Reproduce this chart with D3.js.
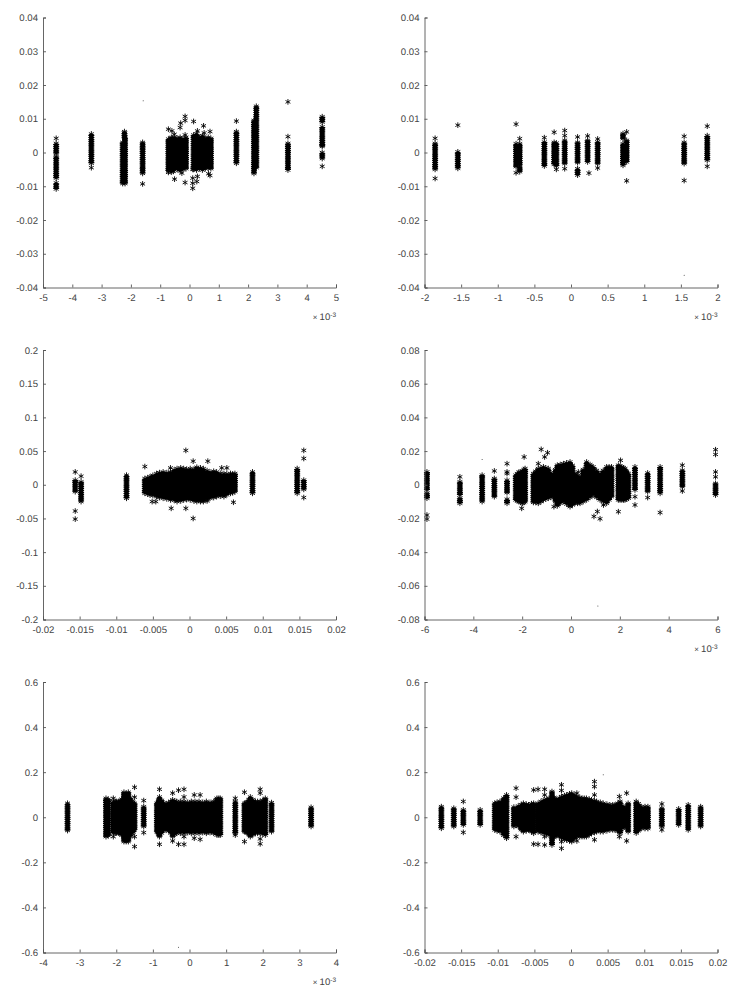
<!DOCTYPE html>
<html>
<head>
<meta charset="utf-8">
<script src="https://cdn.jsdelivr.net/npm/d3@7"></script>
<style>
	html, body { margin: 0; padding: 0; background: #fff; }
	svg { display: block; }
	text { font-family: "Liberation Sans", Arial, sans-serif; font-size: 9.6px; fill: #444; text-rendering: geometricPrecision; }
</style>
</head>
<body>
<svg class="chart" width="745" height="990"></svg>
<script>
// tick labels (x axes with a multiplier are in units of 1e-3)
var xTicksA = [-5,-4,-3,-2,-1,0,1,2,3,4,5],
	yTicksA = [-0.04,-0.03,-0.02,-0.01,0,0.01,0.02,0.03,0.04],
	xTicksB = [-2,-1.5,-1,-0.5,0,0.5,1,1.5,2],
	yTicksB = yTicksA,
	xTicksC = [-0.02,-0.015,-0.01,-0.005,0,0.005,0.01,0.015,0.02],
	yTicksC = [-0.2,-0.15,-0.1,-0.05,0,0.05,0.1,0.15,0.2],
	xTicksD = [-6,-4,-2,0,2,4,6],
	yTicksD = [-0.08,-0.06,-0.04,-0.02,0,0.02,0.04,0.06,0.08],
	xTicksE = [-4,-3,-2,-1,0,1,2,3,4],
	yTicksE = [-0.6,-0.4,-0.2,0,0.2,0.4,0.6],
	xTicksF = xTicksC,
	yTicksF = yTicksE;

// solid runs of overlapping stars: [x, lowest y, highest y]
var runsA = [[-4.55,-0.0076,-0.0012],[-4.55,-0.0108,-0.009],[-4.55,-0.0003,0.0027],
	[-3.35,-0.0032,0.0055],[-2.28,-0.0092,0.003],[-2.2,-0.0092,0.0045],[-2.22,0.0042,0.0062],
	[-1.6,-0.0048,0.0015],[-1.6,-0.0062,-0.0048],[-1.6,0.0015,0.003],
	[-0.72,-0.0055,0.004],[-0.62,-0.0058,0.0045],[-0.52,-0.0052,0.0045],[-0.42,-0.005,0.0042],[-0.32,-0.0055,0.0045],[-0.22,-0.005,0.004],[-0.12,-0.0048,0.0045],
	[0.14,-0.005,0.0052],[0.24,-0.0052,0.0055],[0.34,-0.0048,0.0045],[0.44,-0.0052,0.005],[0.54,-0.0048,0.0042],[0.64,-0.0046,0.0045],[0.73,-0.0048,0.0042],
	[1.6,-0.0032,0.0062],[2.2,-0.0062,0.0095],[2.28,-0.0045,0.0137],[3.36,-0.0052,0.0027],
	[4.53,0.009,0.0106],[4.53,0.0022,0.0076],[4.53,-0.0018,0],[4.53,0.0018,0.0025]];
var starsA = [[-4.55,0.0042],[-3.35,-0.0045],[-1.6,-0.0093],
	[-0.72,0.0069],[-0.6,0.0064],[-0.52,0.0054],[-0.32,0.0074],[-0.3,0.0087],[-0.15,0.0107],[-0.15,0.0095],[-0.15,0.0052],
	[-0.72,-0.0059],[-0.55,-0.0056],[-0.51,-0.0079],[-0.26,-0.0061],[-0.15,-0.0089],
	[0.14,0.0092],[0.27,0.0064],[0.48,0.0079],[0.7,0.0062],[0.5,0.0058],
	[0.11,-0.005],[0.11,-0.0076],[0.11,-0.0091],[0.11,-0.0106],[0.25,-0.0086],[0.27,-0.0071],[0.48,-0.0046],[0.65,-0.0063],[0.7,-0.0068],
	[1.6,0.0093],[3.36,0.0047],[3.36,0.015],[4.53,-0.0041]];
var specksA = [[-1.58,0.0153]];

var runsB = [[-1.855,-0.005,0.0027],[-1.545,-0.0047,0.0002],
	[-0.75,-0.0042,0.0026],[-0.7,-0.0038,0.0026],[-0.7,-0.0057,-0.0042],
	[-0.364,-0.004,0.0031],[-0.23,-0.0035,0.003],[-0.2,-0.004,0.0028],[-0.086,-0.0033,0.0036],
	[0.09,-0.003,0.003],[0.09,-0.0067,-0.0048],[0.227,-0.0028,0.0036],[0.364,-0.0033,0.0031],
	[0.71,-0.0038,0.0026],[0.71,0.0041,0.0056],[0.76,-0.0028,0.0036],[1.545,-0.0033,0.003],[1.86,-0.0023,0.005]];
var starsB = [[-1.855,0.0042],[-1.855,-0.0077],[-1.545,0.0081],[-0.75,0.0084],[-0.75,-0.006],[-0.7,0.0041],
	[-0.364,0.0044],[-0.23,0.006],[-0.2,-0.005],[-0.086,0.0065],[-0.086,0.005],[-0.086,-0.0048],
	[0.09,0.0046],[0.227,0.0049],[0.245,-0.0061],[0.364,0.004],[0.364,-0.0046],
	[0.76,0.0061],[0.76,-0.0084],[1.545,0.0048],[1.545,-0.0083],[1.86,0.0078],[1.86,-0.0041]];
var specksB = [[1.545,-0.0364]];

var runsC = [[-0.0156,-0.0103,0.0069],[-0.0148,-0.025,0.0044],[-0.0086,-0.0201,0.0142],
	[-0.0061,-0.0127,0.0093],[-0.0057,-0.014,0.0105],[-0.0054,-0.0152,0.0118],[-0.005,-0.016,0.014],[-0.0045,-0.0176,0.0167],[-0.0041,-0.019,0.018],[-0.0036,-0.0201,0.019],
	[-0.0031,-0.021,0.018],[-0.0026,-0.0225,0.019],[-0.0021,-0.023,0.022],[-0.0017,-0.025,0.024],[-0.0012,-0.024,0.025],[-0.0008,-0.0225,0.024],[-0.0004,-0.022,0.023],[0.0001,-0.0225,0.024],
	[0.0006,-0.024,0.023],[0.001,-0.025,0.026],[0.0015,-0.025,0.025],[0.0019,-0.025,0.024],[0.0024,-0.022,0.021],[0.0028,-0.0201,0.019],[0.0033,-0.019,0.02],[0.0037,-0.0176,0.019],
	[0.0042,-0.017,0.017],[0.0047,-0.0176,0.0167],[0.0051,-0.015,0.016],[0.0056,-0.0127,0.0167],[0.0059,-0.012,0.016],[0.0062,-0.0103,0.0167],
	[0.0086,-0.0127,0.019],[0.0147,-0.0127,0.024],[0.0156,-0.0069,0.0069]];
var starsC = [[-0.0156,0.019],[-0.0156,-0.039],[-0.0156,-0.051],[-0.0148,0.0127],
	[-0.0061,0.027],[-0.0026,0.025],[-0.0025,-0.035],[-0.0005,0.051],[-0.0005,-0.035],
	[0.0005,0.035],[0.0005,-0.05],[0.0025,0.035],[0.0024,-0.024],[0.0044,0.025],[0.0051,0.025],[0.006,-0.026],
	[-0.0046,-0.025],[-0.0051,-0.025],[0.0156,0.051],[0.0156,0.039],[0.0156,-0.019]];
var specksC = [];

var runsD = [[-5.9,-0.0031,0.0076],[-5.9,-0.008,-0.0051],[-4.55,-0.0061,0.0018],[-4.55,-0.011,-0.008],
	[-3.64,-0.01,0.0057],[-3.14,-0.0071,0.0037],[-2.62,-0.0047,0.0027],[-2.62,-0.011,-0.0086],
	[-2.26,-0.009,0.0057],[-2.2,-0.0095,0.0065],[-2.13,-0.01,0.0076],[-2.06,-0.0105,0.0076],[-1.99,-0.011,0.0076],[-1.93,-0.0105,0.009],[-1.88,-0.01,0.0096],
	[-1.54,-0.0105,0.0067],[-1.44,-0.0105,0.008],[-1.34,-0.011,0.0096],[-1.23,-0.01,0.01],[-1.13,-0.009,0.0106],[-1.03,-0.0085,0.01],[-0.93,-0.008,0.0096],[-0.82,-0.0075,0.007],[-0.72,-0.0071,0.0057],
	[-0.64,-0.01,0.009],[-0.56,-0.0125,0.0116],[-0.44,-0.011,0.012],[-0.31,-0.01,0.0125],[-0.18,-0.0115,0.013],[-0.04,-0.013,0.0135],[0.06,-0.012,0.0115],[0.16,-0.011,0.0067],[0.27,-0.011,0.0055],[0.37,-0.011,0.0047],
	[0.5,-0.01,0.009],[0.64,-0.009,0.0135],[0.78,-0.0075,0.012],[0.91,-0.0061,0.0106],[1.05,-0.0075,0.0085],[1.19,-0.009,0.0067],[1.32,-0.01,0.0085],[1.46,-0.011,0.0106],[1.56,-0.009,0.0106],[1.66,-0.0071,0.0106],
	[1.94,-0.009,0.0116],[2.01,-0.009,0.011],[2.08,-0.009,0.0106],[2.15,-0.009,0.01],[2.21,-0.009,0.0096],[2.28,-0.0085,0.008],[2.35,-0.008,0.0067],
	[2.62,-0.0031,0.0106],[3.14,-0.0041,0.007],[3.65,-0.0051,0.0106],[4.56,-0.0012,0.0086],[5.92,-0.0061,0.0008]];
var starsD = [[-5.9,-0.018],[-5.9,-0.0204],[-4.55,0.0047],[-3.14,0.0082],[-2.62,0.0125],[-2.62,0.0076],[-2.62,0.0067],
	[-1.92,0.0165],[-2.02,-0.014],[-1.34,0.0125],[-1.22,0.021],[-1.08,0.0165],[-0.96,0.019],[-0.7,-0.013],
	[0.3,0.0076],[0.94,-0.0188],[1.08,-0.0159],[1.19,-0.0202],[1.33,-0.012],[2.03,0.0145],[1.94,-0.016],
	[2.62,-0.0071],[2.62,-0.012],[3.14,-0.0076],[3.65,-0.0165],[4.56,0.0116],[4.56,-0.0037],
	[5.92,0.0208],[5.92,0.018],[5.92,0.0076],[5.92,0.0047]];
var specksD = [[-3.64,0.015],[1.1,-0.072]];

var runsE = [[-3.33,-0.059,0.062],[-2.28,-0.086,0.084],[-2.22,-0.082,0.08],[-2.08,-0.07,0.07],[-2.03,-0.07,0.07],[-1.99,-0.07,0.07],[-1.94,-0.07,0.07],[-1.9,-0.07,0.07],[-1.85,-0.08,0.08],
	[-1.79,-0.108,0.111],[-1.73,-0.108,0.105],[-1.67,-0.108,0.111],[-1.62,-0.085,0.085],[-1.58,-0.071,0.07],[-1.54,-0.066,0.066],[-1.5,-0.056,0.062],[-1.25,-0.041,0.047],
	[-0.89,-0.064,0.062],[-0.85,-0.075,0.075],[-0.82,-0.086,0.09],[-0.76,-0.07,0.075],[-0.71,-0.056,0.062],[-0.64,-0.058,0.06],[-0.57,-0.06,0.065],[-0.51,-0.07,0.07],[-0.46,-0.086,0.077],[-0.4,-0.075,0.072],
	[-0.35,-0.071,0.07],[-0.25,-0.071,0.07],[-0.15,-0.071,0.07],[-0.05,-0.068,0.066],[0.05,-0.071,0.07],[0.15,-0.071,0.07],
	[0.26,-0.071,0.07],[0.36,-0.068,0.066],[0.46,-0.071,0.07],[0.56,-0.068,0.066],[0.66,-0.071,0.07],
	[0.75,-0.079,0.084],[0.8,-0.079,0.084],[0.84,-0.079,0.084],[1.25,-0.071,0.07],[1.5,-0.064,0.062],[1.54,-0.066,0.064],[1.58,-0.067,0.066],[1.62,-0.076,0.078],
	[1.66,-0.086,0.09],[1.73,-0.078,0.078],[1.8,-0.071,0.07],[1.86,-0.071,0.07],[1.93,-0.071,0.07],[2,-0.075,0.075],[2.07,-0.079,0.084],[2.24,-0.064,0.065],[3.32,-0.041,0.044]];
var starsE = [[-2.08,0.084],[-2.08,-0.086],[-1.5,0.133],[-1.5,0.089],[-1.5,-0.086],[-1.5,-0.13],[-1.25,0.074],[-1.25,-0.068],
	[-0.82,0.124],[-0.82,-0.12],[-0.46,0.107],[-0.46,-0.105],[-0.3,0.12],[-0.15,0.124],[-0.15,0.09],[-0.3,-0.12],[-0.15,-0.12],[-0.15,-0.086],
	[0.13,0.099],[0.29,0.099],[0.13,-0.093],[0.29,-0.098],[1.25,0.084],[1.25,-0.079],[1.5,0.111],[1.5,-0.108],
	[1.93,0.124],[1.93,0.107],[1.93,-0.096],[1.93,-0.118]];
var specksE = [[-0.3,-0.577]];

var runsF = [[-0.0177,-0.049,0.047],[-0.016,-0.041,0.04],[-0.0147,-0.034,0.033],[-0.0124,-0.034,0.033],
	[-0.0104,-0.056,0.062],[-0.0101,-0.06,0.066],[-0.0097,-0.064,0.07],[-0.0092,-0.08,0.085],[-0.0088,-0.093,0.099],[-0.0078,-0.041,0.045],[-0.0072,-0.041,0.05],[-0.0068,-0.055,0.056],
	[-0.0065,-0.064,0.062],[-0.0061,-0.06,0.058],[-0.0058,-0.056,0.055],[-0.0054,-0.064,0.06],[-0.0051,-0.071,0.062],[-0.0045,-0.064,0.062],[-0.0041,-0.068,0.07],[-0.0037,-0.071,0.077],
	[-0.0033,-0.075,0.08],[-0.003,-0.079,0.084],[-0.0026,-0.123,0.114],[-0.0023,-0.09,0.088],[-0.002,-0.079,0.077],[-0.0016,-0.086,0.085],[-0.0013,-0.093,0.092],[-0.0009,-0.098,0.096],[-0.0006,-0.101,0.099],
	[-0.0002,-0.105,0.104],[0.0001,-0.108,0.107],[0.0005,-0.095,0.098],[0.0008,-0.086,0.092],[0.0012,-0.086,0.088],[0.0015,-0.086,0.084],[0.0018,-0.086,0.084],[0.0021,-0.086,0.084],[0.0025,-0.078,0.08],[0.0028,-0.071,0.077],
	[0.0032,-0.068,0.074],[0.0035,-0.064,0.07],[0.004,-0.064,0.066],[0.0044,-0.064,0.062],[0.0049,-0.06,0.058],[0.0053,-0.056,0.055],[0.0057,-0.056,0.055],[0.006,-0.056,0.055],[0.0064,-0.062,0.062],[0.0067,-0.071,0.07],
	[0.0071,-0.05,0.05],[0.0074,-0.041,0.04],[0.0078,-0.064,0.062],[0.0089,-0.07,0.07],[0.0092,-0.06,0.06],[0.0096,-0.05,0.047],[0.0101,-0.05,0.047],[0.0105,-0.05,0.047],
	[0.0124,-0.041,0.04],[0.0147,-0.034,0.037],[0.016,-0.056,0.055],[0.0177,-0.041,0.047]];
var starsF = [[-0.0147,0.07],[-0.0147,-0.067],[-0.0075,0.129],[-0.0075,0.089],[-0.0075,-0.086],[-0.0051,0.121],[-0.0045,0.124],[-0.0051,-0.119],[-0.0045,-0.12],
	[-0.0036,0.124],[-0.0036,0.099],[-0.0036,-0.086],[-0.0036,-0.123],[-0.0013,0.144],[-0.0013,0.119],[-0.0013,-0.138],[-0.0013,-0.108],
	[0.0008,0.107],[0.0008,-0.105],[0.0032,0.158],[0.0032,0.136],[0.0032,0.099],[0.0032,-0.1],[0.0066,0.092],[0.0066,-0.086],
	[0.0076,0.107],[0.0076,-0.105],[0.0124,0.059],[0.0124,-0.056]];
var specksF = [[0.0044,0.188]];

var panels = [
	{left: 43, top: 17.5, bottom: 287.5, xTicks: xTicksA, yTicks: yTicksA, runs: runsA, stars: starsA, specks: specksA, exp: true},
	{left: 424.5, top: 17.5, bottom: 287.5, xTicks: xTicksB, yTicks: yTicksB, runs: runsB, stars: starsB, specks: specksB, exp: true},
	{left: 43, top: 350, bottom: 619.5, xTicks: xTicksC, yTicks: yTicksC, runs: runsC, stars: starsC, specks: specksC, exp: false},
	{left: 424.5, top: 350, bottom: 619.5, xTicks: xTicksD, yTicks: yTicksD, runs: runsD, stars: starsD, specks: specksD, exp: true},
	{left: 43, top: 682, bottom: 952.5, xTicks: xTicksE, yTicks: yTicksE, runs: runsE, stars: starsE, specks: specksE, exp: true},
	{left: 424.5, top: 682, bottom: 952.5, xTicks: xTicksF, yTicks: yTicksF, runs: runsF, stars: starsF, specks: specksF, exp: false}
];

var plotWidth = 293,
	star = d3.symbol().type(d3.symbolAsterisk).size(22);

var chart = d3.select(".chart");

panels.forEach(function(p) {
	var x = d3.scaleLinear().domain(d3.extent(p.xTicks)).range([p.left, p.left + plotWidth]),
		y = d3.scaleLinear().domain(d3.extent(p.yTicks)).range([p.bottom, p.top]);

	var g = chart.append("g");

	// core of each run, then a comb over it so the edges look like stacked stars
	g.selectAll(".core")
		.data(p.runs)
	.enter().append("line")
		.attr("x1", function(d) { return x(d[0]); })
		.attr("x2", function(d) { return x(d[0]); })
		.attr("y1", function(d) { return y(d[1]); })
		.attr("y2", function(d) { return y(d[2]); })
		.style("stroke", "#000")
		.style("stroke-width", 4.6);

	g.selectAll(".comb")
		.data(p.runs)
	.enter().append("line")
		.attr("x1", function(d) { return x(d[0]); })
		.attr("x2", function(d) { return x(d[0]); })
		.attr("y1", function(d) { return y(d[1]); })
		.attr("y2", function(d) { return y(d[2]); })
		.style("stroke", "#000")
		.style("stroke-width", 6)
		.style("stroke-dasharray", "1.2 0.9");

	// star at both ends of a run, and the single stars
	var ends = [];
	p.runs.forEach(function(d) { ends.push([d[0], d[1]], [d[0], d[2]]); });

	g.selectAll(".star")
		.data(ends.concat(p.stars))
	.enter().append("path")
		.attr("d", star)
		.attr("transform", function(d) { return "translate(" + x(d[0]) + "," + y(d[1]) + ")"; })
		.style("fill", "none")
		.style("stroke", "#000")
		.style("stroke-width", 0.9);

	g.selectAll(".speck")
		.data(p.specks)
	.enter().append("circle")
		.attr("cx", function(d) { return x(d[0]); })
		.attr("cy", function(d) { return y(d[1]); })
		.attr("r", 0.5)
		.style("fill", "#333");

	// axes, ticks inward, no box
	var xAxis = g.append("g")
		.attr("transform", "translate(0," + p.bottom + ")")
		.call(d3.axisBottom(x).tickValues(p.xTicks).tickSize(-3).tickPadding(7).tickFormat(String));
	var yAxis = g.append("g")
		.attr("transform", "translate(" + p.left + ",0)")
		.call(d3.axisLeft(y).tickValues(p.yTicks).tickSize(-3).tickPadding(5).tickFormat(String));

	[xAxis, yAxis].forEach(function(a) {
		a.attr("font-family", null).attr("font-size", null);
		a.selectAll("path, line").style("stroke", "#555").style("stroke-width", 0.9);
	});

	if (p.exp) {
		var label = g.append("text")
			.attr("x", p.left + plotWidth)
			.attr("y", p.bottom + 32)
			.style("text-anchor", "end");
		label.append("tspan").style("font-size", "8px").text("\u00d7 ");
		label.append("tspan").text("10");
		label.append("tspan").attr("dy", -3).style("font-size", "6.5px").text("-3");
	}
});
</script>
</body>
</html>
